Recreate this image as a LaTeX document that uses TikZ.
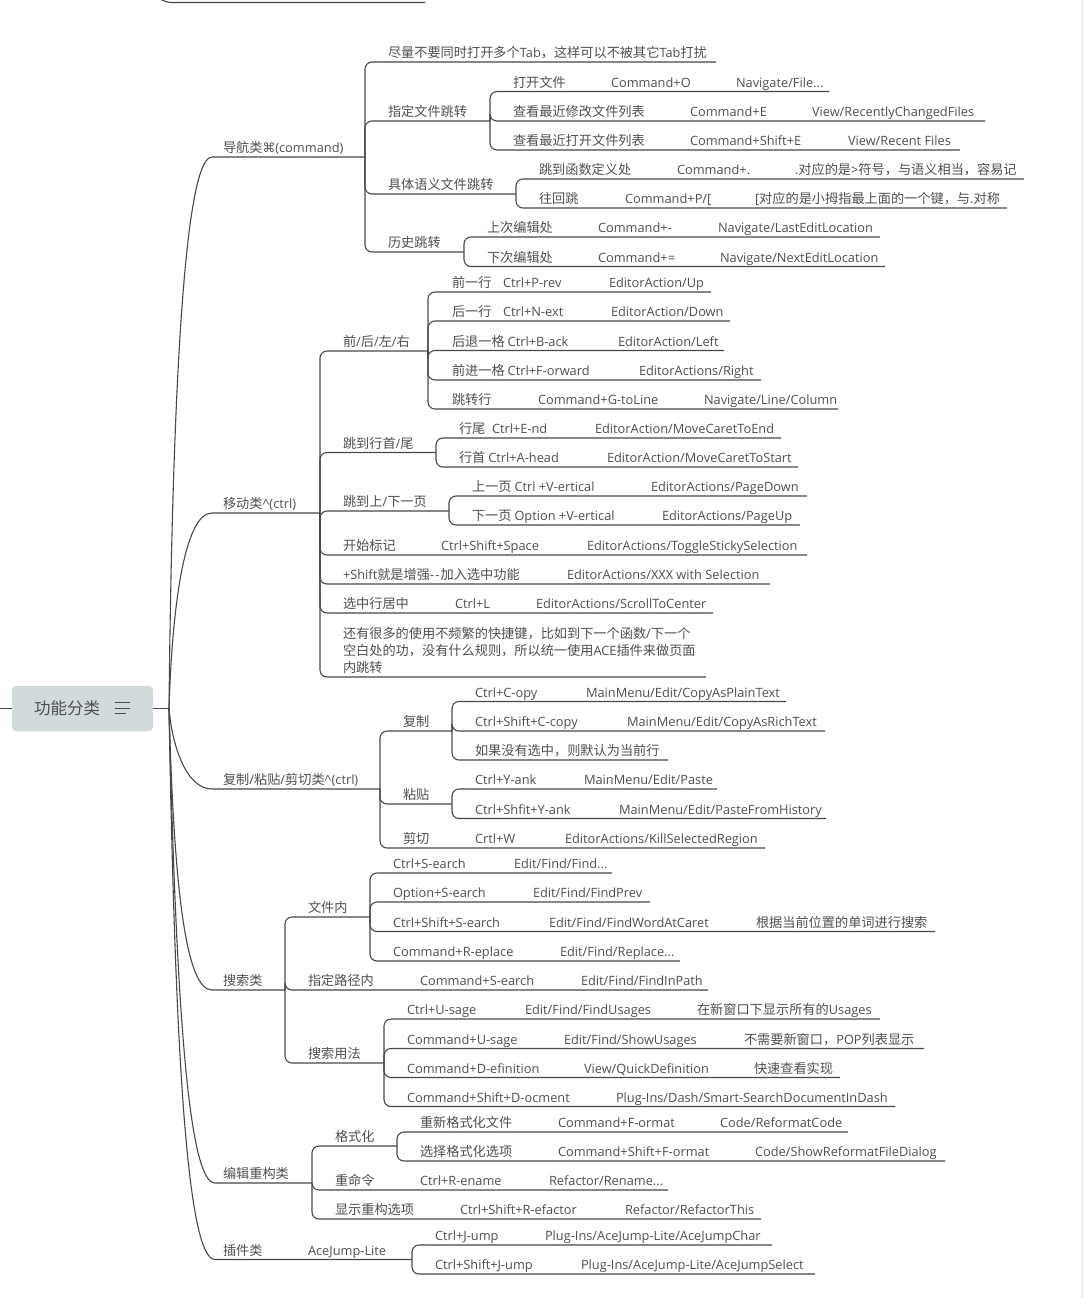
\documentclass[tikz,border=0pt]{standalone}
\usepackage{fontspec}
\setmainfont{Open Sans}
\newfontfamily\cjk[Scale=1.03]{Noto Sans CJK SC}
\newfontfamily\symbfont{DejaVu Sans}
\XeTeXinterchartokenstate=1
\newXeTeXintercharclass\cjkclass
\newXeTeXintercharclass\symclass
\newcount\cjkn
\def\cjkrange#1#2{\cjkn=#1 \loop\XeTeXcharclass\cjkn=\cjkclass \ifnum\cjkn<#2 \advance\cjkn by 1 \repeat}
\cjkrange{"3000}{"30FF}
\cjkrange{"4E00}{"9FFF}
\cjkrange{"FF00}{"FFEF}
\XeTeXcharclass"2318=\symclass
\XeTeXinterchartoks 0 \cjkclass={\cjk}
\XeTeXinterchartoks 4095 \cjkclass={\cjk}
\XeTeXinterchartoks \cjkclass 0={\normalfont}
\XeTeXinterchartoks 4095 0={\normalfont}
\XeTeXinterchartoks \cjkclass \symclass={\symbfont}
\XeTeXinterchartoks \symclass 0={\normalfont}
\definecolor{ink}{HTML}{44484C}
\definecolor{txt}{HTML}{4C4F52}
\definecolor{rootfill}{HTML}{D2DADC}
\definecolor{edge}{HTML}{E0E0E0}
\tikzset{
  ln/.style={draw=ink,line width=1.1pt,rounded corners=7pt},
  lbl/.style={anchor=base west,inner sep=0pt,outer sep=0pt,text=txt,font=\fontsize{12.8}{16}\selectfont},
  rootbox/.style={fill=rootfill,draw=none,rounded corners=4pt,minimum width=141pt,minimum height=45pt,inner sep=0pt},
  roottext/.style={anchor=base west,inner sep=0pt,text=txt,font=\fontsize{16}{20}\selectfont},
  icon/.style={draw=txt,line width=0.8pt}
}
\newcounter{tn}
\def\cy{0}
% \lf{parent}{name}{x of line end / next bar}{line y}: branch drawn from parent's bar to this topic's end
\newcommand\lf[4]{\coordinate (#2) at (#3,#4);\draw[ln] (#1) |- (#2);\def\cy{#4}}
% \tx{x}{text}: a text on the current topic's line
\newcommand\tx[2]{\stepcounter{tn}\node[lbl] (t\arabic{tn}) at (#1,\cy-4.1) {#2};}
% \first{name}{bar x}{line y}{curve end x}{controls}
\newcommand\first[5]{\coordinate (#1) at (#2,#3);\coordinate (#1a) at (#4,#3);\draw[ln,rounded corners=0pt] (j) .. controls #5 .. (#1a) -- (#1);\def\cy{#3}}
\begin{document}
\begin{tikzpicture}[x=1pt,y=-1pt]
\useasboundingbox (0,0) rectangle (1083,1298);
\fill[edge] (1082,0) rectangle (1083,1298);
\node[rootbox] (root) at (82.5,708.5) {};
\node[roottext] (roottxt) at (34,714) {功能分类};
\coordinate (stub) at (0,708.5);
\coordinate (j) at (169,708.5);
\draw[ln,line width=1.9pt] (stub) -- (root.west);
\draw[ln,line width=1.7pt] (root.east) -- (j);
\draw[icon] (115,702) -- (130,702);
\draw[icon] (115,708) -- (130,708);
\draw[icon] (115,713.5) -- (126,713.5);
% fragment at the top edge
\coordinate (fa) at (162,0);\coordinate (fb) at (425,2.5);
\draw[ln] (fa) .. controls (166,2) and (170,2.5) .. (178,2.5) -- (fb);

% navigation
\first{nav}{365}{157}{212}{(172,420) and (183,157)}
\tx{223}{导航类⌘(command)}
\lf{nav}{n1}{716}{62}\tx{388}{尽量不要同时打开多个Tab，这样可以不被其它Tab打扰}
\lf{nav}{n2}{490}{121}\tx{388}{指定文件跳转}
\lf{n2}{n21}{829}{91.5}\tx{513}{打开文件}\tx{611}{Command+O}\tx{736}{Navigate/File...}
\lf{n2}{n22}{985}{121}\tx{513}{查看最近修改文件列表}\tx{690}{Command+E}\tx{812}{View/RecentlyChangedFiles}
\lf{n2}{n23}{960}{150}\tx{513}{查看最近打开文件列表}\tx{690}{Command+Shift+E}\tx{848}{View/Recent Files}
\lf{nav}{n3}{516}{194}\tx{388}{具体语义文件跳转}
\lf{n3}{n31}{1024}{179}\tx{539}{跳到函数定义处}\tx{677}{Command+.}\tx{795}{.对应的是>符号，与语义相当，容易记}
\lf{n3}{n32}{1007}{208}\tx{539}{往回跳}\tx{625}{Command+P/[}\tx{755}{[对应的是小拇指最上面的一个键，与.对称}
\lf{nav}{n4}{464}{252}\tx{388}{历史跳转}
\lf{n4}{n41}{880}{237}\tx{487}{上次编辑处}\tx{598}{Command+-}\tx{718}{Navigate/LastEditLocation}
\lf{n4}{n42}{885}{266.5}\tx{487}{下次编辑处}\tx{598}{Command+=}\tx{720}{Navigate/NextEditLocation}

% movement
\first{mv}{320}{513}{212}{(172,610) and (184,513)}
\tx{223}{移动类\textasciicircum(ctrl)}
\lf{mv}{m1}{428}{351}\tx{343}{前/后/左/右}
\lf{m1}{m11}{711}{292}\tx{452}{前一行}\tx{503}{Ctrl+P-rev}\tx{609}{EditorAction/Up}
\lf{m1}{m12}{730}{321}\tx{452}{后一行}\tx{503}{Ctrl+N-ext}\tx{611}{EditorAction/Down}
\lf{m1}{m13}{724}{350.5}\tx{452}{后退一格 Ctrl+B-ack}\tx{618}{EditorAction/Left}
\lf{m1}{m14}{761}{380}\tx{452}{前进一格 Ctrl+F-orward}\tx{639}{EditorActions/Right}
\lf{m1}{m15}{838}{409}\tx{452}{跳转行}\tx{538}{Command+G-toLine}\tx{704}{Navigate/Line/Column}
\lf{mv}{m2}{436}{452.5}\tx{343}{跳到行首/尾}
\lf{m2}{m21}{781}{438}\tx{459}{行尾}\tx{492}{Ctrl+E-nd}\tx{595}{EditorAction/MoveCaretToEnd}
\lf{m2}{m22}{798}{467}\tx{459}{行首 Ctrl+A-head}\tx{607}{EditorAction/MoveCaretToStart}
\lf{mv}{m3}{449}{511}\tx{343}{跳到上/下一页}
\lf{m3}{m31}{807}{496}\tx{472}{上一页 Ctrl +V-ertical}\tx{651}{EditorActions/PageDown}
\lf{m3}{m32}{800}{525}\tx{472}{下一页 Option +V-ertical}\tx{662}{EditorActions/PageUp}
\lf{mv}{m4}{807}{555}\tx{343}{开始标记}\tx{441}{Ctrl+Shift+Space}\tx{587}{EditorActions/ToggleStickySelection}
\lf{mv}{m5}{770}{584}\tx{343}{+Shift就是增强-\kern1.2pt-\kern1.2pt加入选中功能}\tx{567}{EditorActions/XXX with Selection}
\lf{mv}{m6}{713}{613}\tx{343}{选中行居中}\tx{455}{Ctrl+L}\tx{536}{EditorActions/ScrollToCenter}
\lf{mv}{m7}{706}{677}\tx{343}{内跳转}
\def\cy{659.5}\tx{343}{空白处的功，没有什么规则，所以统一使用ACE插件来做页面}
\def\cy{642.5}\tx{343}{还有很多的使用不频繁的快捷键，比如到下一个函数/下一个}

% copy
\first{cp}{380}{789}{212}{(172,745) and (186,789)}
\tx{223}{复制/粘贴/剪切类\textasciicircum(ctrl)}
\lf{cp}{c1}{452}{731}\tx{403}{复制}
\lf{c1}{c11}{786}{701.5}\tx{475}{Ctrl+C-opy}\tx{586}{MainMenu/Edit/CopyAsPlainText}
\lf{c1}{c12}{825}{731}\tx{475}{Ctrl+Shift+C-copy}\tx{627}{MainMenu/Edit/CopyAsRichText}
\lf{c1}{c13}{668}{760}\tx{475}{如果没有选中，则默认为当前行}
\lf{cp}{c2}{452}{804}\tx{403}{粘贴}
\lf{c2}{c21}{717}{789}\tx{475}{Ctrl+Y-ank}\tx{584}{MainMenu/Edit/Paste}
\lf{c2}{c22}{826}{818.5}\tx{475}{Ctrl+Shfit+Y-ank}\tx{619}{MainMenu/Edit/PasteFromHistory}
\lf{cp}{c3}{765}{848}\tx{403}{剪切}\tx{475}{Crtl+W}\tx{565}{EditorActions/KillSelectedRegion}

% search
\first{se}{285}{990}{212}{(174,890) and (186,990)}
\tx{223}{搜索类}
\lf{se}{s1}{370}{917}\tx{308}{文件内}
\lf{s1}{s11}{612}{873}\tx{393}{Ctrl+S-earch}\tx{514}{Edit/Find/Find...}
\lf{s1}{s12}{650}{902}\tx{393}{Option+S-earch}\tx{533}{Edit/Find/FindPrev}
\lf{s1}{s13}{935}{931.5}\tx{393}{Ctrl+Shift+S-earch}\tx{549}{Edit/Find/FindWordAtCaret}\tx{756}{根据当前位置的单词进行搜索}
\lf{s1}{s14}{680}{961}\tx{393}{Command+R-eplace}\tx{560}{Edit/Find/Replace...}
\lf{se}{s2}{708}{990}\tx{308}{指定路径内}\tx{420}{Command+S-earch}\tx{581}{Edit/Find/FindInPath}
\lf{se}{s3}{384}{1063}\tx{308}{搜索用法}
\lf{s3}{s31}{880}{1019}\tx{407}{Ctrl+U-sage}\tx{525}{Edit/Find/FindUsages}\tx{697}{在新窗口下显示所有的Usages}
\lf{s3}{s32}{924}{1048.5}\tx{407}{Command+U-sage}\tx{564}{Edit/Find/ShowUsages}\tx{744}{不需要新窗口，POP列表显示}
\lf{s3}{s33}{840}{1077.5}\tx{407}{Command+D-efinition}\tx{584}{View/QuickDefinition}\tx{754}{快速查看实现}
\lf{s3}{s34}{895}{1106.5}\tx{407}{Command+Shift+D-ocment}\tx{616}{Plug-Ins/Dash/Smart-SearchDocumentInDash}

% refactor
\first{re}{312}{1183}{215}{(176,1000) and (188,1183)}
\tx{223}{编辑重构类}
\lf{re}{r1}{397}{1146}\tx{335}{格式化}
\lf{r1}{r11}{848}{1132}\tx{420}{重新格式化文件}\tx{558}{Command+F-ormat}\tx{720}{Code/ReformatCode}
\lf{r1}{r12}{945}{1161}\tx{420}{选择格式化选项}\tx{558}{Command+Shift+F-ormat}\tx{755}{Code/ShowReformatFileDialog}
\lf{re}{r2}{668}{1190}\tx{335}{重命令}\tx{420}{Ctrl+R-ename}\tx{549}{Refactor/Rename...}
\lf{re}{r3}{761}{1219}\tx{335}{显示重构选项}\tx{460}{Ctrl+Shift+R-efactor}\tx{625}{Refactor/RefactorThis}

% plugin
\first{pl}{412}{1259.5}{215}{(175,1050) and (187,1259.5)}
\tx{223}{插件类}\tx{308}{AceJump-Lite}
\lf{pl}{p1}{772}{1245}\tx{435}{Ctrl+J-ump}\tx{545}{Plug-Ins/AceJump-Lite/AceJumpChar}
\lf{pl}{p2}{815}{1274}\tx{435}{Ctrl+Shift+J-ump}\tx{581}{Plug-Ins/AceJump-Lite/AceJumpSelect}
\end{tikzpicture}
\end{document}
